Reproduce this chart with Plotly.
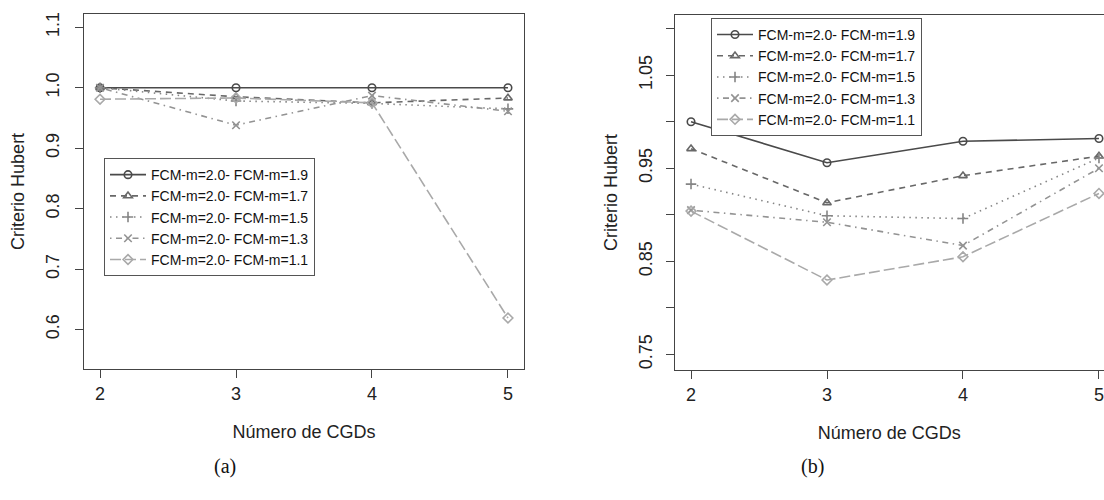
import plotly.graph_objects as go

# Number of clusters (x axis) and series labels
clusters = [2, 3, 4, 5]
series_names = [
    "FCM-m=2.0- FCM-m=1.9",
    "FCM-m=2.0- FCM-m=1.7",
    "FCM-m=2.0- FCM-m=1.5",
    "FCM-m=2.0- FCM-m=1.3",
    "FCM-m=2.0- FCM-m=1.1",
]

# Panel (a): Hubert criterion
hubert_a_19 = [1.000, 1.000, 1.000, 1.000]
hubert_a_17 = [1.000, 0.985, 0.975, 0.983]
hubert_a_15 = [1.000, 0.978, 0.974, 0.965]
hubert_a_13 = [1.000, 0.938, 0.987, 0.961]
hubert_a_11 = [0.981, 0.983, 0.975, 0.619]

# Panel (b): Hubert criterion
hubert_b_19 = [1.000, 0.956, 0.979, 0.982]
hubert_b_17 = [0.971, 0.913, 0.942, 0.963]
hubert_b_15 = [0.933, 0.899, 0.896, 0.961]
hubert_b_13 = [0.905, 0.892, 0.867, 0.950]
hubert_b_11 = [0.904, 0.830, 0.855, 0.923]

ticks_a = [0.6, 0.7, 0.8, 0.9, 1.0, 1.1]
ticks_a_text = ["0.6", "0.7", "0.8", "0.9", "1.0", "1.1"]
ticks_b = [0.75, 0.80, 0.85, 0.90, 0.95, 1.00, 1.05, 1.10]
ticks_b_text = ["0.75", "", "0.85", "", "0.95", "", "1.05", ""]

W, H = 1104, 500

styles = [
    dict(color="#4a4a4a", dash="solid", symbol="circle-open"),
    dict(color="#686868", dash="6px,5px", symbol="triangle-up-open"),
    dict(color="#858585", dash="1.5px,4.5px", symbol="cross-thin-open"),
    dict(color="#939393", dash="1.5px,4.5px,6px,4.5px", symbol="x-thin-open"),
    dict(color="#a9a9a9", dash="11px,4px", symbol="diamond-open"),
]

fig = go.Figure()

panel_a = [hubert_a_19, hubert_a_17, hubert_a_15, hubert_a_13, hubert_a_11]
panel_b = [hubert_b_19, hubert_b_17, hubert_b_15, hubert_b_13, hubert_b_11]

for name, vals, st in zip(series_names, panel_a, styles):
    fig.add_trace(go.Scatter(
        x=clusters, y=vals, name=name, mode="lines+markers",
        line=dict(color=st["color"], dash=st["dash"], width=1.6),
        marker=dict(symbol=st["symbol"], size=7.5, color=st["color"],
                    line=dict(color=st["color"], width=1.6)),
        xaxis="x", yaxis="y", legend="legend",
    ))

for name, vals, st in zip(series_names, panel_b, styles):
    fig.add_trace(go.Scatter(
        x=clusters, y=vals, name=name, mode="lines+markers",
        line=dict(color=st["color"], dash=st["dash"], width=1.6),
        marker=dict(symbol=st["symbol"], size=7.5, color=st["color"],
                    line=dict(color=st["color"], width=1.6)),
        xaxis="x2", yaxis="y2", legend="legend2",
    ))

font_main = "Liberation Sans, Arial, sans-serif"
axis_common = dict(
    showgrid=False, zeroline=False, showline=True, linecolor="#444",
    linewidth=1.2, ticks="outside", ticklen=8, tickcolor="#444",
    tickwidth=1.2, tickfont=dict(family=font_main, size=18, color="#222"),
)
legend_common = dict(
    xanchor="left", yanchor="top", bordercolor="#555", borderwidth=1,
    bgcolor="white", itemwidth=36,
    font=dict(family=font_main, size=14, color="#111"),
)
serif = "Liberation Serif, Times New Roman, serif"

fig.update_layout(
    width=W, height=H,
    margin=dict(l=0, r=0, t=0, b=0),
    paper_bgcolor="white", plot_bgcolor="white",
    font=dict(family=font_main, color="#222"),
    xaxis=dict(
        domain=[83.7 / W, 524.3 / W], range=[1.88, 5.12],
        tickvals=clusters, ticktext=[str(c) for c in clusters],
        mirror=True, anchor="y",
        title=dict(text="Número de CGDs", font=dict(size=18), standoff=22),
        **axis_common,
    ),
    yaxis=dict(
        domain=[1 - 368.3 / H, 1 - 12 / H], range=[0.535, 1.122],
        tickvals=ticks_a, ticktext=ticks_a_text, tickangle=-90,
        ticklabelstandoff=8, mirror=True, anchor="x",
        title=dict(text="Criterio Hubert", font=dict(size=18), standoff=14),
        **axis_common,
    ),
    xaxis2=dict(
        domain=[674.7 / W, 1.0], range=[1.88, 5.037],
        tickvals=clusters, ticktext=[str(c) for c in clusters],
        mirror=True, anchor="y2",
        title=dict(text="Número de CGDs", font=dict(size=18), standoff=22),
        **axis_common,
    ),
    yaxis2=dict(
        domain=[1 - 369.3 / H, 1 - 13.3 / H], range=[0.7336, 1.1143],
        tickvals=ticks_b, ticktext=ticks_b_text, tickangle=-90,
        ticklabelstandoff=6, anchor="x2",
        title=dict(text="Criterio Hubert", font=dict(size=18), standoff=14),
        **axis_common,
    ),
    legend=dict(x=104 / W, y=1 - 156.7 / H, **legend_common),
    legend2=dict(x=711 / W, y=1 - 16 / H, **legend_common),
    showlegend=True,
    annotations=[
        dict(text="(a)", x=212 / W, y=1 - 480 / H, xref="paper", yref="paper",
             showarrow=False, font=dict(family=serif, size=20, color="#111")),
        dict(text="(b)", x=826 / W, y=1 - 480 / H, xref="paper", yref="paper",
             showarrow=False, font=dict(family=serif, size=20, color="#111")),
    ],
)

fig.write_html("out.html")
